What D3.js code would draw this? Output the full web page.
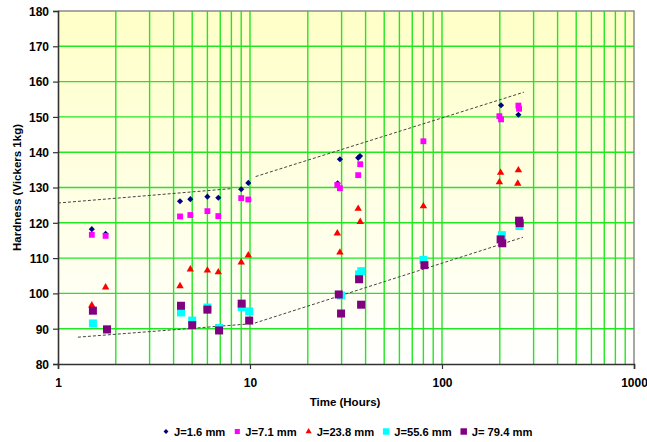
<!DOCTYPE html>
<html>
<head>
<meta charset="utf-8">
<script src="https://cdn.jsdelivr.net/npm/d3@7"></script>
<style>
  body { margin: 0; background: #fff; }
  text { font-family: Arial, "Liberation Sans", sans-serif; }
</style>
</head>
<body>
<div id="chart"></div>
<script>
// measured values [time in hours, hardness]
let j16 = [[1.5,118.2],[1.77,116.9],[4.32,126.1],[4.89,126.7],[6,127.4],[6.84,127.1],[9,129.5],[9.8,131.3],
    [28.6,131.2],[29.4,138],[36.6,138.4],[37.4,138.9],[203,153.3],[250,150.6]];
let j71 = [[1.5,116.6],[1.77,116.3],[4.32,121.8],[4.89,122.2],[6,123.3],[6.84,121.9],[9,127],[9.8,126.6],
    [28.5,130.7],[29.4,129.8],[36.6,133.5],[37.5,136.6],[80,143.1],[199,150.2],[203,149.3],[250,153.2],[252,152.3]];
let j238 = [[1.5,96.6],[1.77,101.7],[4.32,102.1],[4.89,106.8],[6,106.5],[6.84,106],[9,108.8],[9.8,110.8],
    [28.5,117],[29.4,111.6],[36.6,124],[37.5,120.3],[80,124.7],[199,131.5],[202,134.2],[248,131.1],[250,134.9]];
let j556 = [[1.52,91.5],[1.8,89.8],[4.37,94.6],[5,92.3],[6,96],[6.9,90.2],[9.05,96.1],[9.9,94.9],
    [29.8,99.4],[37,105.4],[38,106.3],[80,109.5],[205,116.5],[253,119.1]];
let j794 = [[1.52,95.1],[1.8,89.8],[4.37,96.5],[5,91],[6,95.4],[6.9,89.5],[9.05,97.1],[9.9,92.3],
    [29,99.7],[29.8,94.3],[37,104],[37.9,96.8],[81,108],[202,115.3],[206,114.2],[252,120.6],[254,119.9]];

// dashed trend lines, each in two pieces
let upperTrend = [[[1,125.6],[8.1,129.7]], [[10.7,133.1],[267,157]]];
let lowerTrend = [[[1.27,87.6],[9.6,91.3]], [[10.6,91.6],[264,115.9]]];

let seriesNames = ["J=1.6 mm", "J=7.1 mm", "J=23.8 mm", "J=55.6 mm", "J= 79.4 mm"];
let xTicks = [1, 10, 100, 1000];
let yTicks = d3.range(80, 181, 10);

let margin = {top: 11, right: 13, bottom: 78, left: 58};
let width = 647 - margin.left - margin.right;
let height = 442 - margin.top - margin.bottom;

let svg = d3.select("#chart")
    .append("svg")
    .attr("width", 647)
    .attr("height", 442);

let defs = svg.append("defs");
let grad = defs.append("linearGradient")
    .attr("id", "bg")
    .attr("x1", 0).attr("y1", 0).attr("x2", 0).attr("y2", 1);
grad.append("stop").attr("offset", "0%").attr("stop-color", "#ffffc8");
grad.append("stop").attr("offset", "100%").attr("stop-color", "#ffffff");

let g = svg.append("g")
    .attr("transform", "translate(" + margin.left + "," + margin.top + ")");

let x = d3.scaleLog().domain([1, 1000]).range([0, width]);
let y = d3.scaleLinear().domain([80, 180]).range([height, 0]);

g.append("rect")
    .attr("width", width)
    .attr("height", height)
    .style("fill", "url(#bg)");

// minor log grid
let vGrid = [];
[1, 10, 100].forEach(function(dec) {
    for (let k = 2; k <= 9; k++) vGrid.push(dec * k);
});
vGrid.push(10, 100);

g.selectAll(".vgrid")
    .data(vGrid)
    .enter().append("line")
    .attr("x1", function(d) { return x(d); })
    .attr("x2", function(d) { return x(d); })
    .attr("y1", 0)
    .attr("y2", height)
    .style("stroke", "#22e622")
    .style("stroke-width", 1.4);

g.selectAll(".hgrid")
    .data(yTicks.slice(1, -1))
    .enter().append("line")
    .attr("x1", 0)
    .attr("x2", width)
    .attr("y1", function(d) { return y(d); })
    .attr("y2", function(d) { return y(d); })
    .style("stroke", "#22e622")
    .style("stroke-width", 1.4);

// top and right border
g.append("path")
    .attr("d", "M0,0H" + width + "V" + height)
    .style("fill", "none")
    .style("stroke", "#8a8a8a")
    .style("stroke-width", 1.5);

// trend lines
let line = d3.line()
    .x(function(d) { return x(d[0]); })
    .y(function(d) { return y(d[1]); });

g.selectAll(".trend")
    .data(upperTrend.concat(lowerTrend))
    .enter().append("path")
    .attr("d", line)
    .style("fill", "none")
    .style("stroke", "#444")
    .style("stroke-width", 1)
    .style("stroke-dasharray", "3,2");

// axes
let yAxis = g.append("g")
    .call(d3.axisLeft(y).tickValues(yTicks).tickSize(5).tickPadding(4));
let xAxis = g.append("g")
    .attr("transform", "translate(0," + height + ")")
    .call(d3.axisBottom(x).tickValues(xTicks).tickFormat(d3.format("d")).tickSize(5).tickPadding(9));

[xAxis, yAxis].forEach(function(ax) {
    ax.select(".domain").style("stroke", "#333").style("stroke-width", 1.6);
    ax.selectAll(".tick line").style("stroke", "#333").style("stroke-width", 1.2);
    ax.selectAll(".tick text")
        .style("font-size", "12px")
        .style("font-weight", "bold")
        .style("fill", "#000");
});
yAxis.selectAll(".tick text").attr("dy", "0.36em");

// titles
svg.append("text")
    .attr("x", margin.left + width / 2 - 1)
    .attr("y", 406)
    .style("text-anchor", "middle")
    .style("font-size", "11.5px")
    .style("font-weight", "bold")
    .text("Time (Hours)");

svg.append("text")
    .attr("transform", "translate(21," + (margin.top + height / 2) + ") rotate(-90)")
    .style("text-anchor", "middle")
    .style("font-size", "11.5px")
    .style("font-weight", "bold")
    .text("Hardness (Vickers 1kg)");

// series (diamond = square turned 45 degrees)
let series = [
    {name: seriesNames[0], data: j16, color: "#000080", shape: d3.symbolSquare, rot: 45, size: 19, lsize: 12},
    {name: seriesNames[1], data: j71, color: "#ff00ff", shape: d3.symbolSquare, rot: 0, size: 34, lsize: 26},
    {name: seriesNames[2], data: j238, color: "#ff0000", shape: d3.symbolTriangle, rot: 0, size: 24, lsize: 16},
    {name: seriesNames[3], data: j556, color: "#00ffff", shape: d3.symbolSquare, rot: 0, size: 64, lsize: 42},
    {name: seriesNames[4], data: j794, color: "#800080", shape: d3.symbolSquare, rot: 0, size: 64, lsize: 42}
];

series.forEach(function(s) {
    g.selectAll(null)
        .data(s.data)
        .enter().append("path")
        .attr("d", d3.symbol().type(s.shape).size(s.size))
        .attr("transform", function(d) {
            return "translate(" + x(d[0]) + "," + y(d[1]) + ") rotate(" + s.rot + ")";
        })
        .style("fill", s.color);
});

// legend
let legend = svg.append("g");
let lx = 0;
series.forEach(function(s) {
    legend.append("path")
        .attr("d", d3.symbol().type(s.shape).size(s.lsize))
        .attr("transform", "translate(" + lx + ",431.5) rotate(" + s.rot + ")")
        .style("fill", s.color);
    let t = legend.append("text")
        .attr("x", lx + 8)
        .attr("y", 435.5)
        .style("font-size", "11.2px")
        .style("font-weight", "bold")
        .style("fill", "#000")
        .text(s.name);
    lx += 8 + t.node().getComputedTextLength() + 12;
});
legend.attr("transform", "translate(" + (166) + ",0)");
</script>
</body>
</html>
